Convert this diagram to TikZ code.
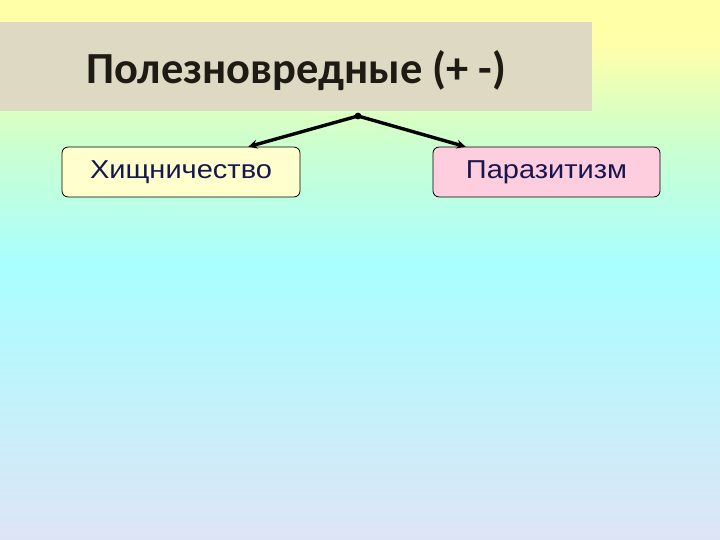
\documentclass[tikz,border=0pt]{standalone}
\usepackage{fontspec}
\setmainfont{Carlito}
\newfontfamily\boxfont[FakeStretch=1.12]{Liberation Sans}
\usetikzlibrary{arrows.meta,calc}

\definecolor{bgtop}{RGB}{255,255,168}
\definecolor{bggreen}{RGB}{205,255,205}
\definecolor{bgcyan}{RGB}{168,255,255}
\definecolor{bgbot}{RGB}{222,228,246}
\definecolor{titlefill}{RGB}{221,217,195}
\definecolor{titletext}{RGB}{30,26,20}
\definecolor{predfill}{RGB}{255,255,206}
\definecolor{parafill}{RGB}{255,206,222}
\definecolor{boxtext}{RGB}{22,22,80}

% path box is mapped onto 25bp..75bp of the shading
\pgfdeclareverticalshading{slidebg}{100bp}{%
  color(0bp)=(bgbot); color(25bp)=(bgbot); color(50.5bp)=(bgcyan);
  color(62bp)=(bggreen); color(71bp)=(bgtop); color(100bp)=(bgtop)}

\tikzset{
  kindbox/.style={draw=black, thick, rounded corners=6pt, minimum height=50pt,
    inner sep=0pt, font=\boxfont\fontsize{26}{30}\selectfont, text=boxtext},
  link/.style={line width=3.4pt, -{Stealth[length=9pt,width=9pt]}}
}

\begin{document}
\begin{tikzpicture}[x=1bp,y=-1bp]
\useasboundingbox (0,0) rectangle (720,540);
\shade[shading=slidebg] (0,0) rectangle (720,540);
%
\fill[titlefill] (0,22) rectangle (592,111);
\node[anchor=base, inner sep=0pt, text=titletext] (title) at (296,84)
  {\fontsize{44.6}{50}\selectfont\bfseries Полезновредные (+ -)};
%
\node[kindbox, fill=predfill, minimum width=238bp] (pred) at (181,172) {Хищничество};
\node[kindbox, fill=parafill, minimum width=227bp] (para) at (546.5,172) {Паразитизм};
%
\coordinate (fork) at (358,116);
\fill (fork) circle (3.4bp);
\draw[link] (fork) -- ([xshift=-52bp]pred.north east);
\draw[link] (fork) -- ([xshift=33bp]para.north west);
\end{tikzpicture}
\end{document}
